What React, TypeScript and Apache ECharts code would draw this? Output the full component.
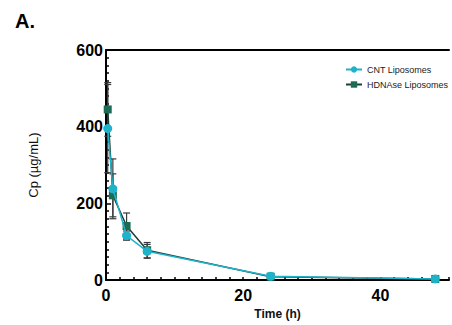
import React, { useEffect, useRef } from "react";
import * as echarts from "echarts";

const timeH = [0.25, 1, 3, 6, 24, 48];
const cntMean = [395, 238, 116, 75, 10, 3];
const cntErr = [115, 78, 12, 18, 3, 1];
const hdMean = [445, 221, 141, 78, 9, 3];
const hdErr = [70, 56, 34, 20, 3, 1];
const xLabels = [0, 20, 40];
const yLabels = [0, 200, 400, 600];

const CYAN = "#1fb3ca";
const TEAL = "#1b6b55";
const FONT = "'Liberation Sans', Arial, sans-serif";

function errSeries(mean: number[], err: number[]) {
  return {
    type: "custom",
    silent: true,
    z: 3,
    data: timeH.map((t, i) => [t, mean[i], err[i]]),
    renderItem: (params: any, api: any) => {
      const x = api.value(0);
      const y = api.value(1);
      const e = api.value(2);
      const top = api.coord([x, y + e]);
      const bot = api.coord([x, y - e]);
      const w = 3.5;
      const style = { stroke: "#3a3a3a", lineWidth: 1.2 };
      return {
        type: "group",
        children: [
          { type: "line", shape: { x1: top[0], y1: top[1], x2: bot[0], y2: bot[1] }, style },
          { type: "line", shape: { x1: top[0] - w, y1: top[1], x2: top[0] + w, y2: top[1] }, style },
          { type: "line", shape: { x1: bot[0] - w, y1: bot[1], x2: bot[0] + w, y2: bot[1] }, style },
        ],
      };
    },
  };
}

export default function App() {
  const ref = useRef<HTMLDivElement>(null);
  useEffect(() => {
    if (!ref.current) return;
    document.body.style.margin = "0";
    const chart = echarts.init(ref.current, undefined, { renderer: "svg" });
    chart.setOption({
      animation: false,
      backgroundColor: "#ffffff",
      textStyle: { fontFamily: FONT },
      title: {
        text: "A.",
        left: 10,
        top: 6,
        textStyle: { fontSize: 20, fontWeight: "bold", color: "#000", fontFamily: FONT },
      },
      legend: {
        orient: "vertical",
        left: 340,
        top: 60,
        itemGap: 6,
        itemWidth: 16,
        itemHeight: 8,
        textStyle: { fontSize: 9, color: "#222", fontFamily: FONT },
        data: ["CNT Liposomes", "HDNAse Liposomes"],
      },
      grid: { left: 106, top: 50, right: -4, bottom: 41 },
      xAxis: [
        {
          type: "value",
          min: 0,
          max: 50,
          interval: 2,
          position: "bottom",
          name: "Time (h)",
          nameLocation: "middle",
          nameGap: 24,
          nameTextStyle: { fontSize: 12, fontWeight: "bold", color: "#111", fontFamily: FONT },
          axisLine: { show: true, lineStyle: { color: "#000", width: 2 } },
          axisTick: { show: true, inside: true, length: 3, lineStyle: { color: "#000", width: 1.5 } },
          axisLabel: {
            fontSize: 16,
            fontWeight: "bold",
            color: "#000",
            margin: 7,
            fontFamily: FONT,
            formatter: (v: number) => (xLabels.includes(v) ? String(v) : ""),
          },
          splitLine: { show: false },
        },
        {
          type: "value",
          min: 0,
          max: 50,
          position: "top",
          axisLine: { show: true, lineStyle: { color: "#000", width: 2 } },
          axisTick: { show: false },
          axisLabel: { show: false },
          splitLine: { show: false },
        },
      ],
      yAxis: {
        type: "value",
        min: 0,
        max: 600,
        interval: 200,
        name: "Cp (µg/mL)",
        nameLocation: "middle",
        nameGap: 66,
        nameTextStyle: { fontSize: 13, color: "#111", fontFamily: FONT },
        axisLine: { show: true, lineStyle: { color: "#000", width: 2 } },
        axisTick: { show: true, inside: true, length: 5, lineStyle: { color: "#000", width: 1.5 } },
        minorTick: { show: true, splitNumber: 10, length: 3, lineStyle: { color: "#000", width: 1.5 } },
        axisLabel: {
          fontSize: 16,
          fontWeight: "bold",
          color: "#000",
          margin: 3,
          fontFamily: FONT,
          formatter: (v: number) => (yLabels.includes(v) ? String(v) : ""),
        },
        splitLine: { show: false },
      },
      series: [
        errSeries(hdMean, hdErr),
        errSeries(cntMean, cntErr),
        {
          name: "HDNAse Liposomes",
          type: "line",
          z: 4,
          data: timeH.map((t, i) => [t, hdMean[i]]),
          symbol: "rect",
          symbolSize: 8,
          itemStyle: { color: TEAL },
          lineStyle: { color: "#1d3d35", width: 1.5 },
        },
        {
          name: "CNT Liposomes",
          type: "line",
          z: 5,
          data: timeH.map((t, i) => [t, cntMean[i]]),
          symbol: "circle",
          symbolSize: 9,
          itemStyle: { color: CYAN },
          lineStyle: { color: CYAN, width: 1.5 },
        },
      ],
    });
    return () => chart.dispose();
  }, []);
  return (
    <div
      ref={ref}
      style={{ position: "fixed", left: 0, top: 0, width: 452, height: 325 }}
    />
  );
}
